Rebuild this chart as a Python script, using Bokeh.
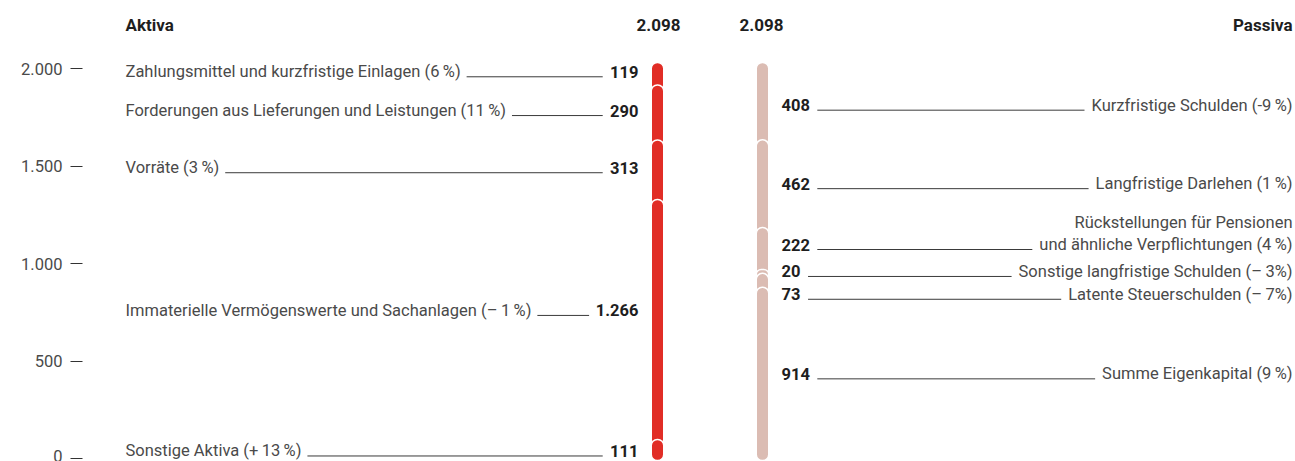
import subprocess
from bokeh.plotting import figure
from bokeh.models import Range1d, LinearAxis, FixedTicker
from bokeh.core.properties import value
from bokeh.embed import file_html
from bokeh.resources import INLINE

# ---------------- data ----------------
TS = "\u2009"  # thin space
aktiva_labels = [
    f"Zahlungsmittel und kurzfristige Einlagen (6{TS}%)",
    f"Forderungen aus Lieferungen und Leistungen (11{TS}%)",
    f"Vorräte (3{TS}%)",
    f"Immaterielle Vermögenswerte und Sachanlagen (–{TS}1{TS}%)",
    f"Sonstige Aktiva (+{TS}13{TS}%)",
]
aktiva_values = [119, 290, 313, 1266, 111]
aktiva_value_text = ["119", "290", "313", "1.266", "111"]

passiva_labels = [
    f"Kurzfristige Schulden (-9{TS}%)",
    f"Langfristige Darlehen (1{TS}%)",
    f"Rückstellungen für Pensionen\nund ähnliche Verpflichtungen (4{TS}%)",
    f"Sonstige langfristige Schulden (–{TS}3%)",
    f"Latente Steuerschulden (–{TS}7%)",
    f"Summe Eigenkapital (9{TS}%)",
]
passiva_values = [408, 462, 222, 20, 73, 914]
passiva_value_text = ["408", "462", "222", "20", "73", "914"]

header_left = "Aktiva"
header_right = "Passiva"
total_text = "2.098"
axis_ticks = [0, 500, 1000, 1500, 2000]
axis_tick_labels = ["0", "500", "1.000", "1.500", "2.000"]

# ---------------- layout / style ----------------
FONT = "Roboto"
FS = 16.5
HFS = 17
W, H = 1295, 461
LEFT_BORDER = 82
RED = "#e12d26"
ROSE = "#dbbcb3"
TXT = "#4a4a4a"
DARK = "#1e1e1e"
LINE = "#3a3a3a"

BAR_TOP_PX, BAR_BOTTOM_PX = 62, 460        # figure pixels
AX_TOP_PX, AX_BOTTOM_PX = 68, 458          # axis ticks 2000 / 0
total = max(sum(aktiva_values), sum(passiva_values))
s = (BAR_BOTTOM_PX - BAR_TOP_PX) / total
s2 = (AX_BOTTOM_PX - AX_TOP_PX) / axis_ticks[-1]


def px(n):
    return n / s


def _font_file(bold):
    try:
        r = subprocess.run(["fc-match", "-f", "%{file}",
                            f"{FONT}:style={'Bold' if bold else 'Regular'}"],
                           capture_output=True, text=True, timeout=5)
        return r.stdout.strip() or None
    except Exception:
        return None


_cache = {}


def text_width(t, bold=False, size=FS):
    try:
        from PIL import ImageFont
        key = (bold, size)
        if key not in _cache:
            _cache[key] = ImageFont.truetype(_font_file(bold), size)
        return _cache[key].getlength(t)
    except Exception:
        return len(t) * size * 0.5


p = figure(width=W, height=H, output_backend="svg", toolbar_location=None,
           x_axis_type=None, y_axis_type=None,
           x_range=Range1d(LEFT_BORDER, W),
           y_range=Range1d(-(H - BAR_BOTTOM_PX) / s, BAR_BOTTOM_PX / s),
           min_border_left=LEFT_BORDER, min_border_right=0,
           min_border_top=0, min_border_bottom=0)
p.outline_line_color = None
p.grid.visible = False
p.background_fill_color = "white"
p.border_fill_color = "white"

p.extra_y_ranges = {"ax": Range1d(-(H - AX_BOTTOM_PX) / s2, AX_BOTTOM_PX / s2)}
ax = LinearAxis(y_range_name="ax", ticker=FixedTicker(ticks=axis_ticks))
ax.major_label_overrides = {t: l for t, l in zip(axis_ticks, axis_tick_labels)}
ax.axis_line_color = None
ax.major_tick_out = 12
ax.major_tick_in = 0
ax.minor_tick_line_color = None
ax.major_tick_line_color = "#333333"
ax.major_tick_line_width = 1
ax.major_label_standoff = 8
ax.major_label_text_font = FONT
ax.major_label_text_font_size = f"{FS}px"
ax.major_label_text_color = TXT
p.add_layout(ax, "left")

AK_X, PA_X = 657, 762
BAR_W = 12.5
LABEL_X, NUM_R = 125, 638
PNUM_L, PLABEL_R = 781, 1292


def stack(values):
    tops, bottoms = [], []
    acc = sum(values)
    for v in values:
        tops.append(acc)
        bottoms.append(acc - v)
        acc -= v
    return tops, bottoms


def draw_bar(xc, values, color):
    tops, bottoms = stack(values)
    draw_bottoms = [b - px(6) if i < len(values) - 1 else b for i, b in enumerate(bottoms)]
    p.vbar(x=[xc] * len(values), top=tops, bottom=draw_bottoms, width=BAR_W,
           fill_color=color, line_color="white", line_width=1.5,
           border_radius=6)
    return tops, bottoms


# Aktiva
tops, bottoms = draw_bar(AK_X, aktiva_values, RED)
aktiva_nudge = [-2, -2, -2, -9, 1]
ty = [(t + b) / 2 - px(n) for t, b, n in zip(tops, bottoms, aktiva_nudge)]
p.text(x=[LABEL_X] * len(ty), y=ty, text=aktiva_labels, text_font=value(FONT),
       text_font_size=f"{FS}px", text_color=TXT, text_align="left", text_baseline="middle")
p.text(x=[NUM_R] * len(ty), y=ty, text=aktiva_value_text, text_font=value(FONT),
       text_font_size=f"{FS}px", text_font_style="bold", text_color=DARK,
       text_align="right", text_baseline="middle")
x0 = [LABEL_X + text_width(l) + 6 for l in aktiva_labels]
x1 = [NUM_R - text_width(n, True) - 8 for n in aktiva_value_text]
ly = [y - px(5) for y in ty]
p.segment(x0=x0, y0=ly, x1=x1, y1=ly, line_color=LINE, line_width=1)

# Passiva
tops, bottoms = draw_bar(PA_X, passiva_values, ROSE)
passiva_nudge = [4, 0, -4, 0, 14, 0]
ty = [(t + b) / 2 - px(n) for t, b, n in zip(tops, bottoms, passiva_nudge)]
p.text(x=[PNUM_L] * len(ty), y=ty, text=passiva_value_text, text_font=value(FONT),
       text_font_size=f"{FS}px", text_font_style="bold", text_color=DARK,
       text_align="left", text_baseline="middle")
lx, lyy, lt = [], [], []
sx0, sx1, sy = [], [], []
for lab, y, num in zip(passiva_labels, ty, passiva_value_text):
    lines = lab.split("\n")
    for k, line in enumerate(reversed(lines)):
        lx.append(PLABEL_R)
        lyy.append(y + px(22 * k))
        lt.append(line)
    sx0.append(PNUM_L + text_width(num, True) + 8)
    sx1.append(PLABEL_R - text_width(lines[-1]) - 7)
    sy.append(y - px(5))
p.text(x=lx, y=lyy, text=lt, text_font=value(FONT), text_font_size=f"{FS}px",
       text_color=TXT, text_align="right", text_baseline="middle")
p.segment(x0=sx0, y0=sy, x1=sx1, y1=sy, line_color=LINE, line_width=1)

# Headers
hy = total + px(38)
p.text(x=[LABEL_X], y=[hy], text=[header_left], text_font=value(FONT), text_font_size=f"{HFS}px",
       text_font_style="bold", text_color=DARK, text_align="left", text_baseline="middle")
p.text(x=[AK_X + 23], y=[hy], text=[total_text], text_font=value(FONT), text_font_size=f"{HFS}px",
       text_font_style="bold", text_color=DARK, text_align="right", text_baseline="middle")
p.text(x=[PA_X - 23], y=[hy], text=[total_text], text_font=value(FONT), text_font_size=f"{HFS}px",
       text_font_style="bold", text_color=DARK, text_align="left", text_baseline="middle")
p.text(x=[PLABEL_R], y=[hy], text=[header_right], text_font=value(FONT), text_font_size=f"{HFS}px",
       text_font_style="bold", text_color=DARK, text_align="right", text_baseline="middle")

open("out.html", "w").write(file_html(p, INLINE))
